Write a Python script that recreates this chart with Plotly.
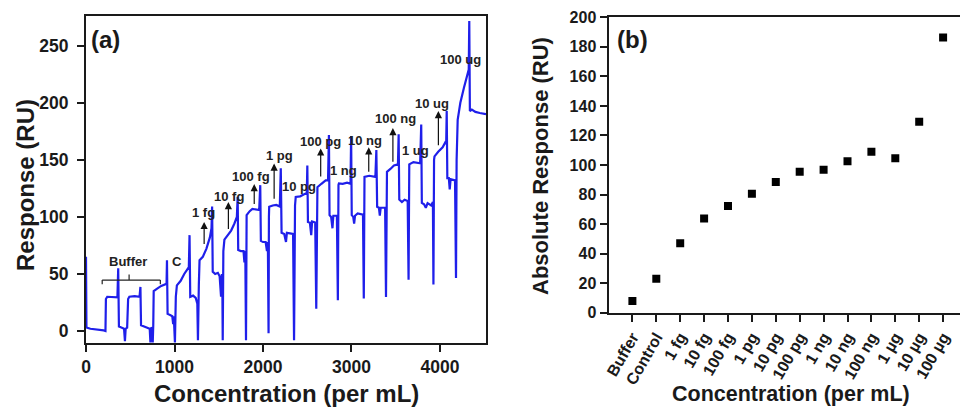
import plotly.graph_objects as go

# ---------------- Panel (a): sensorgram ----------------
time_a = [0, 5, 50, 120, 200, 220,
          225, 240, 300, 355,
          364, 372, 400, 430, 440, 448, 465,
          476, 490, 550, 605,
          615, 622, 650, 690, 720, 728, 735, 748, 754, 760,
          765, 800, 850, 900, 910,
          915, 922, 950, 975, 985, 992, 1005, 1015,
          1027, 1070, 1110, 1150, 1162,
          1170, 1178, 1210, 1240, 1258, 1265, 1275,
          1283, 1320, 1360, 1400, 1418,
          1425, 1432, 1460, 1490, 1510, 1526, 1535, 1540, 1545, 1552,
          1564, 1600, 1640, 1676, 1705,
          1714, 1720, 1750, 1780, 1790, 1800, 1808, 1812,
          1815, 1850, 1880, 1957,
          1969, 1976, 2000, 2030, 2045, 2055, 2063, 2067,
          2070, 2110, 2150, 2190,
          2201, 2210, 2240, 2260, 2270, 2340, 2351, 2362,
          2370, 2420, 2483, 2495,
          2501, 2508, 2530, 2545, 2555, 2590, 2602, 2610,
          2615, 2660, 2708, 2735,
          2745, 2752, 2770, 2785, 2795, 2835, 2846, 2853,
          2858, 2900, 2950, 2989,
          2996, 3003, 3020, 3030, 3040, 3070, 3130, 3139, 3144,
          3147, 3200, 3270,
          3281, 3290, 3310, 3320, 3330, 3380, 3390, 3397,
          3401, 3440, 3480, 3525,
          3533, 3540, 3570, 3600, 3635, 3645, 3650,
          3653, 3700, 3776,
          3788, 3795, 3820, 3840, 3860, 3900, 3920, 3926, 3933,
          3938, 3980, 4030, 4058, 4070,
          4076, 4083, 4100, 4110, 4120, 4170, 4181, 4188,
          4200, 4230, 4270, 4300, 4325,
          4331, 4338, 4360, 4400, 4450, 4520]

response_a = [65, 3, 2, 1.5, 0.5, 0,
              28, 30, 30, 29.5,
              55, 4, 3, 2, -9, 2, 3,
              28, 30, 30.5, 30,
              38.6, 5, 4, 3, 2, -10, 3, 2, -10, 5,
              35, 37, 39.5, 41, 41,
              62, 15, 14, 13, 6, 13, -10, 30,
              40, 44, 50, 55, 56,
              84, 30, 31, 29, 24, -8, 40,
              62, 65, 72, 82, 90,
              109, 52, 50, 51, 48, 30, 50, 48, -8, 70,
              80, 84, 88, 94, 100,
              117.5, 71, 70, 70, 60, 70, -8, 95,
              101.5, 105, 107, 106,
              127.8, 79, 78, 78, 70, 78, -2, 100,
              108.8, 110, 110.5, 109,
              142.5, 86, 85, 78, 86, 85, -8, 110,
              117.5, 118, 120.5, 121,
              145, 95.6, 95, 84, 96, 95, 19.6, 124,
              126, 129, 132, 132,
              171.7, 101.5, 100, 90, 101, 101, 27, 128,
              129.3, 129, 130, 129,
              170.8, 101.5, 100, 94, 101, 103, 102, 28.4, 134,
              135, 136, 135,
              158.5, 108.8, 108, 101, 108, 108, 29.8, 138,
              139.5, 142, 145, 146,
              172.3, 115.3, 113, 115, 114, 45, 144,
              146, 148, 147,
              181, 112.3, 111, 108, 112, 110, 113, 40.7, 150,
              153, 157, 161, 165, 164,
              192.7, 134, 134, 124, 133, 132, 46.5, 150,
              185, 200, 213, 222, 229,
              271.7, 192.7, 194, 192, 191, 190]

# concentration labels on panel (a): (text, x, y)
labels_a = [("Buffer", 475, 61), ("C", 1027, 61), ("1 fg", 1330, 104),
            ("10 fg", 1620, 118), ("100 fg", 1867, 135), ("1 pg", 2182, 154),
            ("10 pg", 2407, 127), ("100 pg", 2652, 166), ("1 ng", 2914, 141),
            ("10 ng", 3158, 167), ("100 ng", 3499, 186), ("1 ug", 3724, 158),
            ("10 ug", 3915, 199.5), ("100 ug", 4230, 238)]
# arrows on panel (a): (x, y_tail, y_tip)
arrows_a = [(1335, 75, 95.6), (1609, 88, 113), (1901, 110, 128.7),
            (2126, 114.6, 146.8), (2652, 134, 160), (3195, 138.3, 161),
            (3468, 147, 177.8), (3982, 161.4, 192.7)]

# ---------------- Panel (b): absolute response ----------------
categories_b = ["Buffer", "Control", "1 fg", "10 fg", "100 fg", "1 pg", "10 pg",
                "100 pg", "1 ng", "10 ng", "100 ng", "1 µg", "10 µg", "100 µg"]
abs_response_b = [8, 23, 47, 63.7, 72.2, 80.6, 88.5, 95.5, 96.7, 102.5, 109,
                  104.5, 129.3, 186.3]

FONT = "Arial, Liberation Sans, sans-serif"
AX = "#1a1a1a"

# the page body keeps the browser's 8 px margin, so the figure is 8 px smaller
OFF = 8
W, H = 968 - OFF, 408 - OFF


def fx(px):
    return (px - OFF) / W


def fy(py):
    return 1 - (py - OFF) / H


fig = go.Figure()
fig.add_trace(go.Scatter(x=time_a, y=response_a, mode="lines",
                         line=dict(color="#1f1fea", width=2.2),
                         xaxis="x", yaxis="y", showlegend=False))
fig.add_trace(go.Scatter(x=categories_b, y=abs_response_b, mode="markers",
                         marker=dict(symbol="square", size=8, color="black"),
                         xaxis="x2", yaxis="y2", showlegend=False))

common = dict(showgrid=False, zeroline=False, showline=True, linecolor=AX,
              linewidth=2, mirror=True, ticks="outside", ticklen=7,
              tickwidth=2, tickcolor=AX, automargin=False)

fig.update_layout(
    width=W, height=H,
    margin=dict(l=0, r=0, t=0, b=0, pad=0, autoexpand=False),
    paper_bgcolor="white", plot_bgcolor="white",
    font=dict(family=FONT, color="#1a1a1a"),
    xaxis=dict(domain=[fx(86), fx(486)], range=[0, 4520],
               tickvals=[0, 1000, 2000, 3000, 4000], anchor="y",
               tickfont=dict(size=17.5, weight="bold", family=FONT), **common),
    yaxis=dict(domain=[fy(343), fy(16)], range=[-10.5, 276],
               tickvals=[0, 50, 100, 150, 200, 250], anchor="x",
               ticklabelstandoff=5,
               tickfont=dict(size=17.5, weight="bold", family=FONT), **common),
    xaxis2=dict(domain=[fx(608.5), min(fx(967), 1.0)], range=[-1, 14.0],
                type="category", anchor="y2", tickangle=-60,
                tickfont=dict(size=16, weight="bold", family=FONT), **common),
    yaxis2=dict(domain=[fy(312.7), fy(17.3)], range=[0, 200],
                dtick=20, anchor="x2",
                tickfont=dict(size=16, weight="bold", family=FONT), **common),
)

ann = []
for txt, x, y in labels_a:
    ann.append(dict(x=x, y=y, xref="x", yref="y", text=txt, showarrow=False,
                    xanchor="center", yanchor="middle",
                    font=dict(size=13, weight="bold", family=FONT, color="#222")))
for x, y0, y1 in arrows_a:
    ann.append(dict(x=x, y=y1, ax=x, ay=y0, xref="x", yref="y", axref="x",
                    ayref="y", text="", showarrow=True, arrowhead=2,
                    arrowsize=1.2, arrowwidth=1.2, arrowcolor="#111"))


def paper_text(txt, px, py, size, angle=0):
    return dict(x=fx(px), y=fy(py), xref="paper", yref="paper",
                text=txt, textangle=angle, showarrow=False,
                xanchor="center", yanchor="middle",
                font=dict(size=size, weight="bold", family=FONT, color="#1a1a1a"))


ann += [
    paper_text("(a)", 105, 40, 24),
    paper_text("(b)", 632, 40, 24),
    paper_text("Concentration (per mL)", 286, 393, 24),
    paper_text("Response (RU)", 25, 185, 24, -90),
    paper_text("Concentration (per mL)", 791, 394, 21.5),
    paper_text("Absolute Response (RU)", 540, 166, 22, -90),
]
fig.update_layout(annotations=ann)

# bracket over the buffer injections
br = dict(color="#222", width=1.2)
fig.add_shape(type="line", xref="x", yref="y", x0=183, x1=840, y0=44.6, y1=44.6, line=br)
fig.add_shape(type="line", xref="x", yref="y", x0=183, x1=183, y0=44.6, y1=41, line=br)
fig.add_shape(type="line", xref="x", yref="y", x0=840, x1=840, y0=44.6, y1=41, line=br)
fig.add_shape(type="line", xref="x", yref="y", x0=487, x1=487, y0=44.6, y1=49.5, line=br)

fig.write_html("out.html")
